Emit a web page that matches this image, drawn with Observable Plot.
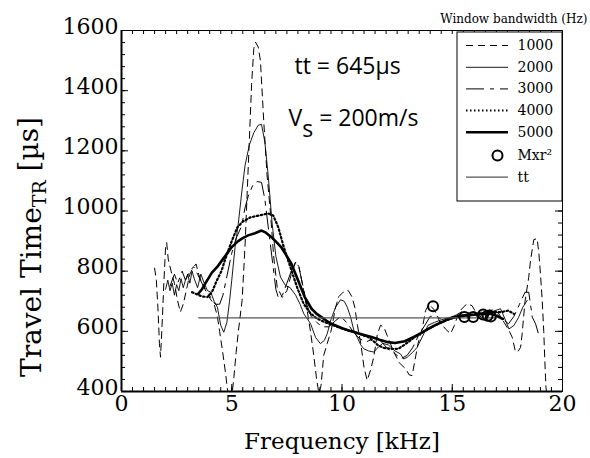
<!DOCTYPE html>
<html><head><meta charset="utf-8">
<script src="https://cdn.jsdelivr.net/npm/d3@7"></script>
<script src="https://cdn.jsdelivr.net/npm/@observablehq/plot@0.6"></script>
<style>body{margin:0;background:#fff} #chart svg{display:block}</style>
</head><body><div id="chart"></div>
<script>
// ---------- data ----------
const bandwidths = ["1000","2000","3000","4000","5000"];
const bw1000 = [[1.5,810],[1.58,770],[1.65,680],[1.72,560],[1.77,514],[1.84,620],[1.92,760],[2.0,880],[2.05,895],[2.12,840],[2.25,800],[2.4,760],[2.55,700],[2.67,664],[2.8,690],[2.95,740],[3.1,790],[3.25,812],[3.38,824],[3.5,790],[3.65,760],[3.85,730],[4.05,705],[4.2,690],[4.34,653],[4.45,600],[4.6,525],[4.72,460],[4.8,410],[4.9,370],[5.0,380],[5.1,450],[5.2,530],[5.3,600],[5.47,703],[5.6,880],[5.75,1150],[5.9,1420],[6.0,1540],[6.08,1561],[6.2,1545],[6.3,1500],[6.45,1300],[6.6,1120],[6.76,991],[6.9,850],[7.06,747],[7.29,713],[7.5,735],[7.7,790],[7.9,830],[8.05,815],[8.25,740],[8.42,669],[8.57,600],[8.72,520],[8.85,440],[8.95,395],[9.05,420],[9.17,520],[9.33,560],[9.5,600],[9.71,680],[9.85,715],[10.05,730],[10.28,736],[10.45,715],[10.58,680],[10.7,620],[10.85,560],[11.0,480],[11.14,437],[11.29,470],[11.44,514],[11.6,590],[11.75,620],[11.9,614],[12.05,586],[12.3,540],[12.6,495],[12.88,476],[13.05,455],[13.18,453],[13.3,500],[13.45,560],[13.64,609],[13.79,669],[13.95,690],[14.2,670],[14.45,630],[14.69,608],[14.92,592],[15.1,620],[15.3,664],[15.5,680],[15.68,692],[15.9,685],[16.1,660],[16.35,645],[16.6,665],[16.85,672],[17.1,660],[17.35,630],[17.57,603],[17.72,580],[17.87,531],[18.0,535],[18.1,547],[18.17,592],[18.3,700],[18.47,780],[18.55,836],[18.7,905],[18.85,908],[18.93,858],[19.0,791],[19.08,703],[19.15,600],[19.2,500],[19.25,414],[19.3,380]];
const bw2000 = [[2.0,740],[2.1,770],[2.2,735],[2.3,760],[2.4,720],[2.5,755],[2.6,735],[2.7,775],[2.8,745],[2.9,770],[3.0,790],[3.1,760],[3.2,800],[3.3,775],[3.45,745],[3.6,790],[3.75,760],[3.9,735],[4.05,730],[4.2,700],[4.35,680],[4.5,620],[4.64,597],[4.78,630],[4.9,700],[5.0,770],[5.15,880],[5.3,960],[5.45,1060],[5.6,1150],[5.8,1220],[6.0,1260],[6.2,1285],[6.35,1288],[6.5,1230],[6.65,1120],[6.83,960],[7.0,850],[7.21,780],[7.44,752],[7.65,745],[7.9,720],[8.1,690],[8.27,658],[8.57,626],[8.8,580],[9.02,559],[9.2,570],[9.33,592],[9.5,640],[9.71,680],[9.93,705],[10.1,700],[10.24,680],[10.38,650],[10.55,600],[10.69,580],[10.85,555],[10.99,542],[11.2,535],[11.44,531],[11.65,548],[11.85,560],[12.1,555],[12.4,535],[12.65,525],[12.8,508],[12.96,514],[13.2,530],[13.41,547],[13.71,592],[13.9,620],[14.2,630],[14.5,638],[14.8,645],[15.1,650],[15.4,655],[15.7,652],[16.0,658],[16.3,664],[16.6,660],[16.9,668],[17.19,675],[17.4,640],[17.57,608],[17.79,619],[18.0,645],[18.2,680],[18.4,703]];
const bw3000 = [[2.2,750],[2.4,790],[2.55,760],[2.75,800],[2.9,770],[3.1,800],[3.27,815],[3.45,790],[3.65,760],[3.85,735],[4.05,712],[4.25,690],[4.45,690],[4.6,720],[4.8,790],[5.0,860],[5.2,910],[5.45,950],[5.6,1010],[5.75,1050],[5.95,1085],[6.15,1098],[6.35,1095],[6.5,1040],[6.65,950],[6.85,830],[7.0,740],[7.13,708],[7.3,720],[7.5,760],[7.7,800],[7.89,830],[8.04,815],[8.2,760],[8.4,690],[8.6,650],[8.85,630],[9.1,615],[9.4,615],[9.7,635],[9.95,650],[10.2,630],[10.5,600],[10.8,575],[11.1,565],[11.4,575],[11.6,580],[11.85,560],[12.1,540],[12.4,525],[12.7,510],[12.95,520],[13.2,545],[13.5,590],[13.8,625],[14.0,650],[14.3,650],[14.6,635],[14.9,645],[15.2,655],[15.5,668],[15.8,660],[16.1,650],[16.4,662],[16.7,672],[17.0,660],[17.3,640],[17.55,625],[17.8,650],[18.05,690],[18.3,730],[18.47,730],[18.63,647],[18.78,625],[18.93,586]];
const bw4000 = [[3.2,730],[3.45,722],[3.65,716],[3.9,714],[4.1,730],[4.3,765],[4.54,802],[4.75,850],[5.0,900],[5.25,945],[5.5,965],[5.85,979],[6.3,986],[6.65,992],[6.88,985],[7.0,965],[7.11,946],[7.36,880],[7.66,813],[7.97,745],[8.27,690],[8.57,660],[8.87,642],[9.3,628],[9.98,610],[10.58,597],[11.19,581],[11.45,566],[11.64,553],[11.9,545],[12.2,542],[12.55,542],[12.85,556],[13.3,581],[13.91,608],[14.51,630],[15.12,647],[15.72,653],[16.33,660],[16.78,664],[17.23,664],[17.54,669],[17.8,658]];
const bw5000 = [[3.48,725],[3.65,740],[3.85,765],[4.1,795],[4.35,815],[4.55,835],[4.8,860],[5.0,880],[5.29,900],[5.5,910],[5.74,919],[6.05,926],[6.35,935],[6.55,928],[6.8,913],[7.05,895],[7.26,878],[7.5,850],[7.71,824],[8.01,769],[8.31,714],[8.62,675],[8.85,658],[9.07,647],[9.3,635],[9.52,625],[9.98,611],[10.3,603],[10.58,597],[11.0,588],[11.34,581],[11.7,572],[12.09,564],[12.4,561],[12.85,567],[13.3,583],[13.6,595],[13.91,608],[14.2,620],[14.51,630],[14.8,640],[15.12,647],[15.57,653],[16.02,655],[16.48,658],[16.78,658],[17.08,649],[17.3,641]];
const mxrFreq = [14.13, 15.55, 15.95, 16.4, 16.6, 16.75];
const mxrTime = [683, 648, 648, 656, 652, 649];
const ttValue = 645;
const ttFreqRange = [3.5, 17.0];
const xTickValues = [0, 5, 10, 15, 20];
const yTickValues = [400, 600, 800, 1000, 1200, 1400, 1600];
const legendTitle = "Window bandwidth (Hz)";
const legendLabels = ["1000","2000","3000","4000","5000","Mxr\u00B2","tt"];
const xLabel = "Frequency [kHz]";
const yLabelParts = ["Travel Time", "TR", " [\u00B5s]"];
const noteTT = "tt = 645\u00B5s";
const noteVsParts = ["V", "s", " = 200m/s"];

// ---------- layout ----------
const W = 590, H = 458, mL = 121, mR = 28, mT = 30, mB = 67;
const fw = W - mL - mR, fh = H - mT - mB;
const X = px => (px - mL) / fw * 20;
const Y = py => 1600 - (py - mT) / fh * 1200;
const serif = "DejaVu Serif";
const sans = "Open Sans";

const styles = {
  "1000": {stroke: "black", strokeWidth: 1, strokeDasharray: "7,5"},
  "2000": {stroke: "black", strokeWidth: 0.9},
  "3000": {stroke: "black", strokeWidth: 1, strokeDasharray: "18,6,4,6"},
  "4000": {stroke: "black", strokeWidth: 2.2, strokeDasharray: "1.5,2.5"},
  "5000": {stroke: "black", strokeWidth: 2.6},
  "tt":   {stroke: "#555", strokeWidth: 1.2}
};
const seriesData = {"1000": bw1000, "2000": bw2000, "3000": bw3000, "4000": bw4000, "5000": bw5000};
const toRows = arr => arr.map(([f, t]) => ({f, t}));
const mxr = mxrFreq.map((f, i) => ({f, t: mxrTime[i]}));
const ttLine = ttFreqRange.map(f => ({f, t: ttValue}));

const xMinor = d3.range(0, 20.001, 0.5);
const yMinor = d3.range(400, 1600.001, 40);

// legend geometry (pixels)
const legBox = {x1: 457, x2: 562, y1: 32, y2: 201};
const legRowY = [45, 66.8, 88.4, 110, 131.8, 155, 176.6];
const legLineX = [466, 508];
const legTextX = 517;
const legendItems = legendLabels.map((label, i) => ({label, i}));

const marks = [];
// ticks (inward)
marks.push(Plot.tickX(xMinor, {x: d => d, insetTop: fh - 4, stroke: "black"}));
marks.push(Plot.tickX(xMinor, {x: d => d, insetBottom: fh - 4, stroke: "black"}));
marks.push(Plot.tickX(xTickValues, {x: d => d, insetTop: fh - 7, stroke: "black"}));
marks.push(Plot.tickY(yMinor, {y: d => d, insetRight: fw - 4, stroke: "black"}));
marks.push(Plot.tickY(yMinor, {y: d => d, insetLeft: fw - 4, stroke: "black"}));
marks.push(Plot.tickY(yTickValues, {y: d => d, insetRight: fw - 7, stroke: "black"}));
marks.push(Plot.tickY(yTickValues, {y: d => d, insetLeft: fw - 7, stroke: "black"}));

// curves
for (const b of bandwidths) {
  marks.push(Plot.line(toRows(seriesData[b]), {x: "f", y: "t", ...styles[b], clip: true}));
}
marks.push(Plot.line(ttLine, {x: "f", y: "t", ...styles.tt}));
marks.push(Plot.dot(mxr, {x: "f", y: "t", r: 5, stroke: "black", strokeWidth: 2, fill: "none"}));

// frame & axes
marks.push(Plot.frame({stroke: "black", strokeWidth: 1}));
marks.push(Plot.ruleX([0], {stroke: "black", strokeWidth: 2}));
marks.push(Plot.ruleY([400], {stroke: "black", strokeWidth: 2}));
marks.push(Plot.axisX({ticks: xTickValues, tickSize: 0, tickPadding: 4, fontSize: 22, fontFamily: serif, label: null, tickFormat: d => String(d)}));
marks.push(Plot.axisY({ticks: yTickValues, tickSize: 0, tickPadding: 3, dy: -4, fontSize: 22, fontFamily: serif, label: null, tickFormat: d => String(d)}));

// axis titles
marks.push(Plot.text([xLabel], {text: d => d, frameAnchor: "bottom", dy: 57, lineAnchor: "bottom", fontSize: 23, fontFamily: serif, fill: "black"}));
marks.push(Plot.text([yLabelParts[0]], {text: d => d, frameAnchor: "left", dx: -81, dy: 36, rotate: -90, lineAnchor: "bottom", textAnchor: "middle", fontSize: 28, fontFamily: serif, fill: "black"}));

// annotations
marks.push(Plot.text([noteTT], {text: d => d, frameAnchor: "top-left", dx: 173, dy: 43, lineAnchor: "bottom", textAnchor: "start", fontSize: 23, fontFamily: sans, fill: "black"}));
marks.push(Plot.text([noteVsParts[0]], {text: d => d, frameAnchor: "top-left", dx: 167, dy: 95, lineAnchor: "bottom", textAnchor: "start", fontSize: 23, fontFamily: sans, fill: "black"}));

// legend
marks.push(Plot.text([legendTitle], {text: d => d, frameAnchor: "top-right", dx: 25, dy: -11, lineAnchor: "middle", textAnchor: "end", fontSize: 12, fontFamily: serif, fill: "black"}));
marks.push(Plot.rect([legBox], {x1: d => X(d.x1), x2: d => X(d.x2), y1: d => Y(d.y1), y2: d => Y(d.y2), fill: "white", stroke: "black", strokeWidth: 1}));
const legKeys = ["1000","2000","3000","4000","5000", null, "tt"];
legKeys.forEach((k, i) => {
  if (k) marks.push(Plot.ruleY([legRowY[i]], {y: d => Y(d), x1: X(legLineX[0]), x2: X(legLineX[1]), ...styles[k]}));
});
marks.push(Plot.dot([legRowY[5]], {x: () => X(497), y: d => Y(d), r: 5, stroke: "black", strokeWidth: 2, fill: "none"}));
marks.push(Plot.text(legendItems, {x: () => X(legTextX), y: d => Y(legRowY[d.i]), text: "label", textAnchor: "start", lineAnchor: "middle", fontSize: 14, fontFamily: serif, fill: "black"}));

const svg = Plot.plot({
  width: W, height: H,
  marginLeft: mL, marginRight: mR, marginTop: mT, marginBottom: mB,
  x: {domain: [0, 20]},
  y: {domain: [400, 1600]},
  style: {fontFamily: serif, background: "white", color: "black", overflow: "visible"},
  marks
});

// subscripts as tspans
const sel = d3.select(svg);
sel.selectAll("text").filter(function() { return this.textContent === yLabelParts[0]; }).each(function() {
  const t = d3.select(this); t.text(null);
  t.append("tspan").text(yLabelParts[0]);
  t.append("tspan").attr("dy", "0.3em").attr("font-size", "19px").text(yLabelParts[1]);
  t.append("tspan").attr("dy", "-0.3em").text(yLabelParts[2]);
});
sel.selectAll("text").filter(function() { return this.textContent === noteVsParts[0]; }).each(function() {
  const t = d3.select(this); t.text(null);
  t.append("tspan").text(noteVsParts[0]);
  t.append("tspan").attr("dy", "0.5em").text(noteVsParts[1]);
  t.append("tspan").attr("dy", "-0.5em").text(noteVsParts[2]);
});
document.getElementById("chart").appendChild(svg);
</script></body></html>
